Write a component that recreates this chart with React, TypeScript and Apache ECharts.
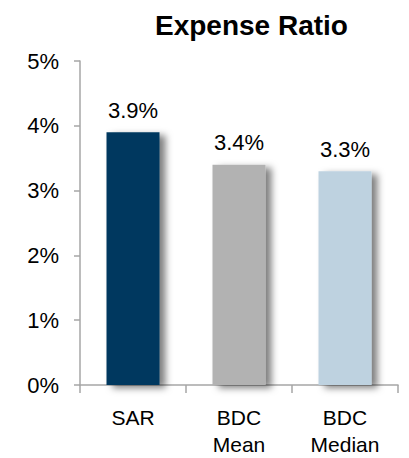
import React, { useEffect, useRef } from "react";
import * as echarts from "echarts";

const categories = ["SAR", "BDC\nMean", "BDC\nMedian"];
const values = [3.9, 3.4, 3.3];
const barColors = ["#04385F", "#B2B2B2", "#BED2E0"];
const yTicks = { min: 0, max: 5, interval: 1 };
const titleText = "Expense Ratio";

const FONT = "'Liberation Sans', Arial, Helvetica, sans-serif";

export default function App() {
  const ref = useRef<HTMLDivElement>(null);
  useEffect(() => {
    if (!ref.current) return;
    const chart = echarts.init(ref.current, undefined, { renderer: "svg" });
    chart.setOption({
      animation: false,
      backgroundColor: "#ffffff",
      title: {
        text: titleText,
        left: 155,
        top: 11,
        padding: 0,
        textStyle: { fontFamily: FONT, fontSize: 28, fontWeight: "bold", color: "#000" },
      },
      grid: { left: 80, right: 11, top: 61, bottom: 68, containLabel: false },
      xAxis: {
        type: "category",
        data: categories,
        boundaryGap: true,
        axisLine: { show: true, lineStyle: { color: "#A6A6A6", width: 1.5 } },
        axisTick: { show: true, alignWithLabel: false, length: 8, lineStyle: { color: "#A6A6A6", width: 1.5 } },
        axisLabel: {
          fontFamily: FONT,
          fontSize: 21,
          color: "#000",
          margin: 19,
          lineHeight: 27,
          interval: 0,
        },
      },
      yAxis: {
        type: "value",
        min: yTicks.min,
        max: yTicks.max,
        interval: yTicks.interval,
        axisLine: { show: true, lineStyle: { color: "#A6A6A6", width: 1.5 } },
        axisTick: { show: true, length: 6, lineStyle: { color: "#A6A6A6", width: 1.5 } },
        splitLine: { show: false },
        axisLabel: {
          fontFamily: FONT,
          fontSize: 22,
          color: "#000",
          margin: 21,
          formatter: "{value}%",
        },
      },
      series: [
        {
          type: "bar",
          barWidth: "50%",
          data: values.map((v, i) => ({
            value: v,
            itemStyle: {
              color: barColors[i],
              shadowColor: "rgba(0,0,0,0.5)",
              shadowBlur: 7,
              shadowOffsetX: 6,
              shadowOffsetY: 3,
            },
          })),
          label: {
            show: true,
            position: "top",
            distance: 11,
            fontFamily: FONT,
            fontSize: 22,
            color: "#000",
            formatter: (p: any) => `${p.value.toFixed(1)}%`,
          },
        },
      ],
    });
    return () => chart.dispose();
  }, []);
  return <div ref={ref} style={{ width: 409, height: 458, position: "absolute", left: 0, top: 0 }} />;
}
